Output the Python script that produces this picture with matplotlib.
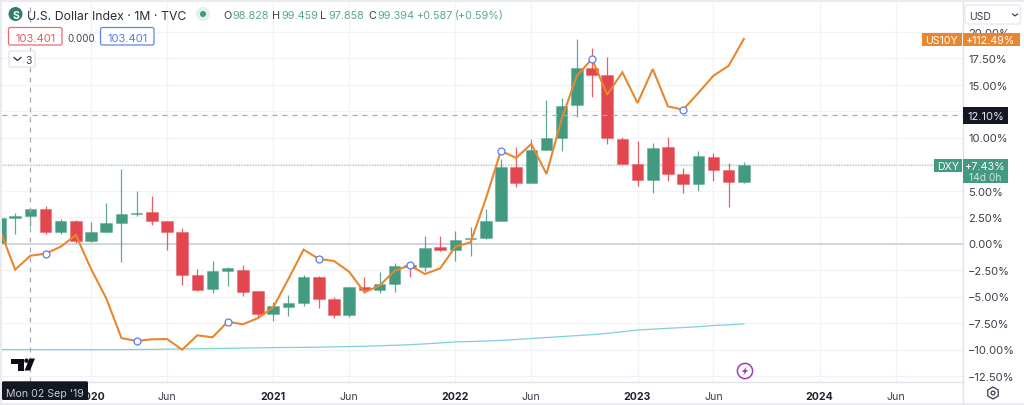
import matplotlib
matplotlib.use("Agg")
import matplotlib.pyplot as plt
from matplotlib.patches import FancyBboxPatch, Rectangle, Circle, Polygon, RegularPolygon
import numpy as np

plt.rcParams['font.family'] = ['Inter', 'DejaVu Sans']

opens = [0.02,2.41,2.62,3.25,1.08,2.08,0.21,1.13,1.93,2.78,2.97,2.08,1.13,-2.97,-4.29,-2.59,-2.50,-4.51,-6.62,-6.02,
         -5.61,-3.19,-5.24,-6.79,-4.08,-4.39,-3.79,-2.03,-2.25,-0.36,-0.61,0.40,0.49,2.15,7.25,5.68,8.79,9.92,13.07,16.53,
         15.90,9.86,7.50,6.02,9.13,6.56,5.61,8.16,6.91,5.83]
highs = [2.45,2.85,3.30,3.54,2.31,2.22,2.03,3.82,7.03,4.91,4.48,2.12,1.42,-2.41,-1.62,-2.25,-2.03,-4.51,-5.55,-4.86,
         -2.97,-3.09,-5.08,-4.08,-3.19,-2.66,-1.87,-1.75,0.68,0.68,1.21,1.53,3.25,7.97,9.08,9.86,13.57,13.73,19.29,18.42,
         17.57,10.02,9.70,9.45,10.02,7.09,8.75,8.54,7.59,7.66]
lows = [0.00,0.94,1.65,0.90,0.90,0.05,0.14,1.13,-1.70,2.64,1.79,-0.57,-3.87,-4.45,-4.70,-3.98,-4.98,-7.03,-7.34,-6.87,
        -5.87,-6.08,-7.03,-6.91,-4.70,-4.67,-4.55,-3.13,-2.57,-0.74,-1.68,-1.15,0.42,2.15,5.30,5.68,8.79,8.70,11.91,13.79,
        9.39,7.50,5.45,4.76,5.87,4.74,4.95,5.87,3.44,5.71]
closes = [2.38,2.62,3.25,1.08,2.08,0.26,1.13,1.93,2.78,2.88,2.08,1.13,-2.97,-4.36,-2.59,-2.34,-4.60,-6.62,-5.92,-5.61,
          -3.19,-5.24,-6.72,-4.08,-4.39,-3.79,-2.15,-2.25,-0.42,-0.61,0.36,0.52,2.15,7.25,5.71,8.82,9.92,12.94,16.53,15.90,
          9.98,7.50,6.02,9.01,6.56,5.61,8.28,6.91,5.77,7.41]
us10y = [1.27,-2.47,-1.15,-0.96,-0.30,0.80,-2.41,-5.17,-8.92,-9.20,-9.04,-9.01,-10.02,-8.66,-8.85,-7.38,-7.62,-7.03,-6.02,-3.35,
         -0.58,-1.46,-1.65,-2.66,-4.60,-3.98,-2.57,-2.06,-2.88,-2.34,-0.30,0.11,4.20,8.75,8.07,9.39,6.56,11.75,15.83,17.41,
         14.04,16.15,13.25,16.46,12.94,12.62,14.20,15.83,16.77,19.29]
ma_line = [-10.00,-10.01,-10.01,-10.02,-10.02,-10.02,-10.02,-10.02,-10.01,-10.00,-9.99,-9.97,
           -9.95,-9.93,-9.91,-9.89,-9.87,-9.85,-9.82,-9.81,-9.80,-9.78,-9.75,-9.72,
           -9.69,-9.65,-9.60,-9.55,-9.47,-9.38,-9.29,-9.25,-9.20,-9.14,-9.06,-8.96,
           -8.87,-8.78,-8.69,-8.60,-8.48,-8.33,-8.16,-8.08,-8.00,-7.93,-7.85,-7.74,-7.67,-7.59]
y_ticks = [-12.5,-10,-7.5,-5,-2.5,0,2.5,5,7.5,10,12.5,15,17.5,20]
y_labels = ['\u221212.50%','\u221210.00%','\u22127.50%','\u22125.00%','\u22122.50%','0.00%','2.50%','5.00%','','10.00%','','15.00%','17.50%','20.00%']
x_ticks = [6,11,18,23,30,35,42,47,54,59]
x_labels = ['2020','Jun','2021','Jun','2022','Jun','2023','Jun','2024','Jun']
crosshair_month = 2
crosshair_pct = 12.10
last_pct = 7.43

GREEN = '#429a80'
RED = '#e2474f'
ORANGE = '#e8872f'
BLUE = '#5b7cf0'
TXT = '#3a3e4a'

W, H = 1024, 406
fig = plt.figure(figsize=(W/100, H/100), dpi=100, facecolor='white')
L, R, T, B = 2, 962.5, 3, 382.5
ax = fig.add_axes([L/W, 1-B/H, (R-L)/W, (B-T)/H])
ax.set_xlim(L/15.18, R/15.18)
ax.set_ylim((244.5-B)/10.6, (244.5-T)/10.6)

# grid
ax.set_yticks(y_ticks)
ax.set_yticklabels(y_labels, fontsize=8.0, color=TXT)
ax.yaxis.tick_right()
ax.tick_params(axis='y', length=0, pad=4.2)
ax.set_xticks(x_ticks)
ax.set_xticklabels(x_labels, fontsize=7.6, color=TXT)
for lab, t in zip(ax.get_xticklabels(), x_labels):
    if t != 'Jun':
        lab.set_fontweight('bold')
        lab.set_color('#1f2330')
ax.tick_params(axis='x', length=0, pad=7)
ax.grid(True, color='#f2f3f6', lw=0.9, zorder=0)
ax.set_axisbelow(True)
for s in ['top', 'left']:
    ax.spines[s].set_visible(False)
ax.spines['right'].set_color('#e0e3eb')
ax.spines['bottom'].set_color('#e0e3eb')
ax.spines['right'].set_linewidth(1.0)
ax.spines['bottom'].set_linewidth(1.0)

ax.axhline(0, color='#c9cbd3', lw=1.1, zorder=1)
ax.axhline(last_pct, color='#a5d0c3', lw=1.0, ls=(0, (1, 1)), zorder=1)
ax.axhline(crosshair_pct, color='#a9abb3', lw=0.9, ls=(0, (4, 4)), zorder=5)
ax.axvline(crosshair_month, color='#a9abb3', lw=0.9, ls=(0, (4, 4)), zorder=5)

# candles
months = np.arange(len(opens))
o, h, l, c = map(np.array, (opens, highs, lows, closes))
colors = [GREEN if ci >= oi else RED for oi, ci in zip(o, c)]
ax.vlines(months, l, h, colors=colors, lw=0.9, alpha=0.85, zorder=2)
ax.bar(months, np.maximum(np.abs(c-o), 0.12), bottom=np.minimum(o, c), width=0.76,
       color=colors, edgecolor=[(*matplotlib.colors.to_rgb(col), 0.35) for col in colors], lw=0.8, zorder=3)

# lines
ax.plot(months, ma_line, color='#7fd0dc', lw=0.9, zorder=4)
ax.plot(months, us10y, color=ORANGE, lw=1.5, zorder=6, solid_joinstyle='miter')
ax.plot(months[3::6], np.array(us10y)[3::6], ls='none', marker='o', ms=5, mfc='white', mec=BLUE, mew=0.9, zorder=7)

# overlay in pixels
ov = fig.add_axes([0, 0, 1, 1], zorder=10)
ov.set_xlim(0, W); ov.set_ylim(H, 0); ov.axis('off'); ov.patch.set_alpha(0)

def rbox(x0, y0, x1, y1, fc='white', ec='none', lw=1, r=1.5, z=2):
    ov.add_patch(FancyBboxPatch((x0+r, y0+r), x1-x0-2*r, y1-y0-2*r, boxstyle=f'round,pad={r},rounding_size={r}',
                                fc=fc, ec=ec, lw=lw, zorder=z))
def txt(x, y, s, size=8, color=TXT, ha='left', weight='normal', z=5):
    ov.text(x, y, s, fontsize=size, color=color, ha=ha, va='center_baseline', fontweight=weight, zorder=z)

# window bands
band = '#e9ebf0'
ov.add_patch(Rectangle((0, 0), W, 3, fc=band, ec='none', zorder=1))
ov.add_patch(Rectangle((0, 0), 1.8, H, fc=band, ec='none', zorder=1))
ov.add_patch(Rectangle((0, 404), W, 2, fc=band, ec='none', zorder=1))
ov.plot([962.5, 962.5], [382, 404], color='#e0e3eb', lw=1, zorder=1)

# header
ov.add_patch(Circle((15.5, 15), 7, fc='#2f7f68', ec='none', zorder=3))
txt(15.5, 15, 'S', 7.5, 'white', 'center', 'bold')
txt(27, 15, 'U.S. Dollar Index \u00b7 1M \u00b7 TVC', 8.8, '#2a2e39')
ov.add_patch(Circle((203, 15), 7, fc='#e3f0ec', ec='none', zorder=3))
ov.add_patch(Circle((203, 15), 3, fc='#3f9a80', ec='none', zorder=4))
VAL = '#57a88f'
for xl, lab, xv, val in [(223, 'O', 232, '98.828'), (272, 'H', 281, '99.459'), (320, 'L', 328, '97.858'), (368, 'C', 377, '99.394')]:
    txt(xl, 15, lab, 7.8, '#3a3e4a')
    txt(xv, 15, val, 7.8, VAL)
txt(417, 15, '+0.587', 7.8, VAL)
txt(455, 15, '(+0.59%)', 7.8, VAL)

rbox(8.5, 28.5, 62, 46, ec='#ec6a70', lw=0.9, r=2)
txt(35.2, 37.5, '103.401', 8, '#e8585f', 'center')
txt(81, 37.5, '0.000', 7, TXT, 'center')
rbox(100.5, 28.5, 154, 46, ec='#5b86f5', lw=0.9, r=2)
txt(127.2, 37.5, '103.401', 8, '#4f7cf0', 'center')
rbox(9, 52, 35, 68, ec='#e0e3eb', lw=0.9, r=1.5)
ov.plot([14, 17.5, 21], [58.5, 61.5, 58.5], color='#2a2e39', lw=0.9, zorder=5)
txt(25, 60.5, '3', 7.5, TXT)

# price scale labels
rbox(965, 6, 1020.5, 25, ec='#e6e8ee', lw=0.9, r=3)
txt(969, 16, 'USD', 7.5, TXT)
ov.plot([1012.5, 1015, 1017.5], [15, 17, 15], color='#2a2e39', lw=0.8, zorder=5)

ov.add_patch(Rectangle((922, 33.5), 39.5, 13.5, fc=ORANGE, ec='none', zorder=3))
txt(941.5, 40.5, 'US10Y', 7.6, 'white', 'center')
ov.add_patch(Rectangle((962.5, 33.5), 57.5, 13.5, fc=ORANGE, ec='none', zorder=3))
txt(991, 40.5, '+112.49%', 7.7, 'white', 'center')
ov.add_patch(Rectangle((962.5, 107.5), 45.5, 17, fc='#131722', ec='none', zorder=3))
txt(985.5, 116.5, '12.10%', 8, '#e8e9ee', 'center')
ov.add_patch(Rectangle((934, 159.5), 27.5, 13.5, fc=GREEN, ec='none', zorder=3))
txt(948, 166.5, 'DXY', 7.6, 'white', 'center')
ov.add_patch(Rectangle((962.5, 159.5), 45.5, 24.5, fc=GREEN, ec='none', zorder=3))
txt(985.5, 166.5, '+7.43%', 7.8, 'white', 'center')
txt(985.5, 177.5, '14d 0h', 7.4, '#cfe6df', 'center')

# date label
rbox(2, 382.3, 88, 401, fc='#131722', r=1.5, z=3)
txt(45, 393, "Mon 02 Sep '19", 7.6, '#c9ccd4', 'center')

# TradingView logo
ov.add_patch(Polygon([(11, 359.5), (23.5, 359.5), (23.5, 371.5), (18, 371.5), (18, 364.5), (11, 364.5)], fc='#0b0e14', ec='none', zorder=3))
ov.add_patch(Circle((26.5, 361.7), 2.2, fc='#0b0e14', ec='none', zorder=3))
ov.add_patch(Polygon([(29.5, 359.5), (35, 359.5), (30, 371.5), (24.5, 371.5)], fc='#0b0e14', ec='none', zorder=3))

# lightning icon
ov.add_patch(Circle((745, 372), 7.6, fc='white', ec='#9c3fb5', lw=1.1, zorder=3))
ov.add_patch(Polygon([(746.8, 367.5), (741.8, 373), (744.6, 373), (743.2, 376.5), (748.2, 371), (745.4, 371)], fc='#9c3fb5', ec='none', zorder=4))

# settings icon
ov.add_patch(RegularPolygon((993, 394), 6, radius=6, fc='white', ec='#3a3e4a', lw=0.9, zorder=3))
ov.add_patch(Circle((993, 394), 1.9, fc='white', ec='#3a3e4a', lw=0.9, zorder=4))

fig.savefig('out.png', dpi=100, facecolor='white')
